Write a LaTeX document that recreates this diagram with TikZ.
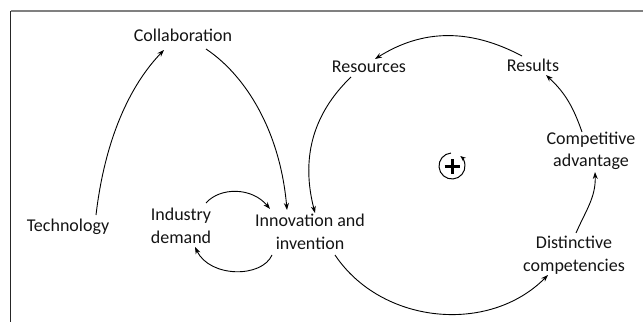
\documentclass[tikz,border=0pt]{standalone}
\usepackage{fontspec}
\setmainfont{Carlito}
\usetikzlibrary{arrows.meta,calc}
\begin{document}
\begin{tikzpicture}[x=1pt,y=1pt,
  lbl/.style={inner sep=0pt,align=center,text=black!92,
    font=\fontsize{18}{22.5}\selectfont},
  link/.style={line width=0.9pt,-{Stealth[length=7pt,width=5pt]}},
  frameline/.style={line width=1.3pt}]
\useasboundingbox (0,0) rectangle (643,322);

% frame
\draw[frameline,black!50] (10.5,311) -- (643,311);
\draw[frameline,black!85] (10.5,311) -- (10.5,0);

% labels
\node[lbl] (collab)   at (183,287) {Collaboration};
\node[lbl] (tech)     at (68,95)   {Technology};
\node[lbl] (industry) at (181,96)  {Industry\\demand};
\node[lbl] (innov)    at (310,90)  {Innovation and\\invention};
\node[lbl] (res)      at (369,255) {Resources};
\node[lbl] (results)  at (533,257) {Results};
\node[lbl] (compet)   at (591,171) {Competitive\\advantage};
\node[lbl] (distinct) at (574,67)  {Distinctive\\competencies};
\coordinate (loop) at (452,156);

% left-hand links
\draw[link] ($(tech)+(28,12)$) .. controls (106,192) and (135,242) .. ($(collab)+(-19,-15)$);
\draw[link] ($(collab)+(23,-14)$) .. controls (245,247) and (280,192) .. ($(innov)+(-23,22)$);
\draw[link] ($(industry)+(25,23)$) .. controls (220,135) and (252,135) .. ($(innov)+(-40,23)$);
\draw[link] ($(innov)+(-38,-23)$) .. controls (262,44) and (210,44) .. ($(industry)+(14,-21)$);

% reinforcing loop
\draw[link] ($(res)+(-18,-10)$) to[out=224,in=104.5] ($(innov)+(5,19)$);
\draw[link] ($(innov)+(25,-23)$) to[out=303.8,in=225.3] ($(distinct)+(-26,-20)$);
\draw[link] ($(distinct)+(2,22)$) to[out=66.4,in=272.4] ($(compet)+(4,-21)$);
\draw[link] ($(compet)+(-9,19)$) to[out=109.2,in=317] ($(results)+(13,-10)$);
\draw[link] ($(results)+(-11,9)$) to[out=152,in=32.2] ($(res)+(6,8)$);

% loop polarity marker
\draw[line width=1pt,-{Stealth[length=5.5pt,width=4.5pt]}]
  ($(loop)+(95:13)$) arc[start angle=95,end angle=410,radius=13];
\draw[line width=3pt] ($(loop)+(-7.5,0)$) -- ($(loop)+(7.5,0)$);
\draw[line width=3pt] ($(loop)+(0,-7.5)$) -- ($(loop)+(0,7.5)$);
\end{tikzpicture}
\end{document}
